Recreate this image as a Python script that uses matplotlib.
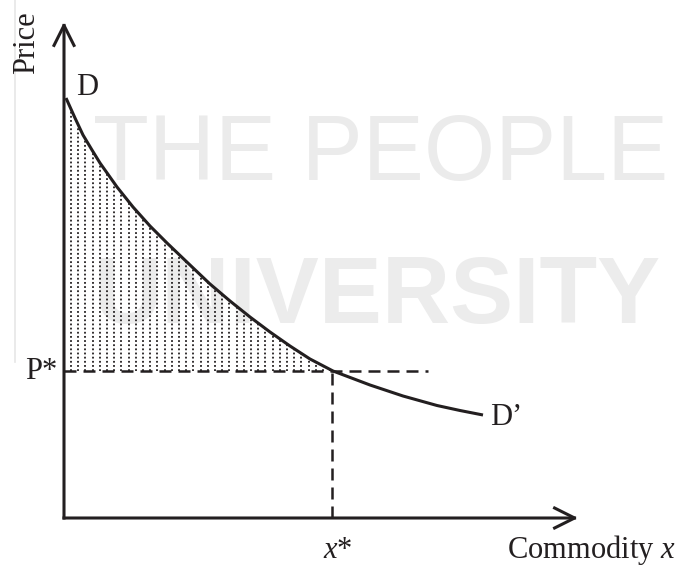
import matplotlib
matplotlib.use("Agg")
import matplotlib.pyplot as plt
from matplotlib.patches import FancyArrowPatch
import numpy as np

# ---- data (units: px from axis origin) ----
curve_x = [2, 11, 19, 28, 36, 53, 69, 86, 103, 126, 146, 166, 186, 206, 226, 246, 269,
           306, 339, 373, 396, 419]
curve_y = [420, 400, 383, 368, 355, 331, 311, 292, 275, 253, 234, 217, 201, 186, 172, 159, 147,
           133, 122, 112.5, 107.5, 103]
p_star = 147
x_star = 268
p_line_end = 364
x_axis_end = 514
y_axis_end = 496

labels = {"price": "Price", "d": "D", "d2": "D\u2019", "p": "P*",
          "xs": "$x$*", "comm": "Commodity $x$"}
watermark = ["THE PEOPLE", "UNIVERSITY"]

plt.rcParams['mathtext.fontset'] = 'custom'
plt.rcParams['mathtext.rm'] = 'Liberation Serif'
plt.rcParams['mathtext.it'] = 'Liberation Serif:italic'

INK = '#231f20'
SERIF = 'Liberation Serif'

fig = plt.figure(figsize=(6.92, 5.66), dpi=100)
ax = fig.add_axes([0, 0, 1, 1])
ax.set_xlim(-64, 628)
ax.set_ylim(-48, 518)
ax.axis('off')

# ---- faint watermark ----
ax.text(29, 338, watermark[0], fontsize=66, family='Liberation Sans',
        color='#ebebeb', ha='left', va='baseline', zorder=0)
ax.text(29, 195, watermark[1], fontsize=68, fontweight='bold', family='Liberation Sans',
        color='#ececec', ha='left', va='baseline', zorder=0)
ax.plot([-49, -49], [518, 156], color='#e6e6e6', lw=1.2, zorder=0)

# ---- consumer surplus shading (dotted columns) ----
k = curve_x.index(269) + 1
poly = ax.fill_between([0] + curve_x[:k], [curve_y[0]] + curve_y[:k], p_star,
                       facecolor='none', edgecolor='none')
cols = np.arange(7, 269, 7.2)
vl = ax.vlines(cols, p_star, 430, colors=INK, linewidths=1.3,
               linestyles=[(0, (1.0, 1.3))], zorder=2)
vl.set_clip_path(poly.get_paths()[0], ax.transData)

# ---- demand curve ----
ax.plot(curve_x, curve_y, color=INK, lw=2.2, solid_capstyle='butt',
        solid_joinstyle='round', zorder=4)

# ---- dashed guides ----
ax.plot([0, p_line_end], [p_star, p_star], color=INK, lw=1.8,
        linestyle=(0, (4.8, 2.8)), zorder=3)
ax.plot([x_star, x_star], [0, p_star], color=INK, lw=1.8,
        linestyle=(0, (4.8, 2.8)), zorder=3)

# ---- axes with open arrowheads ----
for end in [(0, y_axis_end), (x_axis_end, 0)]:
    arr = FancyArrowPatch((0, 0), end, arrowstyle='->,head_length=1.0,head_width=0.5',
                          mutation_scale=14.4, lw=2.2, color=INK,
                          shrinkA=0, shrinkB=0, zorder=5, capstyle='projecting')
    ax.add_patch(arr)

# ---- labels ----
ax.text(-37, 475, labels["price"], rotation=90, fontsize=22, family=SERIF,
        color=INK, ha='center', va='center')
ax.text(12, 423, labels["d"], fontsize=22, family=SERIF, color=INK, ha='left', va='baseline')
ax.text(426, 93, labels["d2"], fontsize=22, family=SERIF, color=INK, ha='left', va='baseline')
ax.text(-39, 139, labels["p"], fontsize=22, family=SERIF, color=INK, ha='left', va='baseline')
ax.text(259, -40, labels["xs"], fontsize=22, family=SERIF, color=INK, ha='left', va='baseline')
ax.text(443, -40, labels["comm"], fontsize=22, family=SERIF, color=INK, ha='left', va='baseline')

fig.savefig("out.png", dpi=100)
